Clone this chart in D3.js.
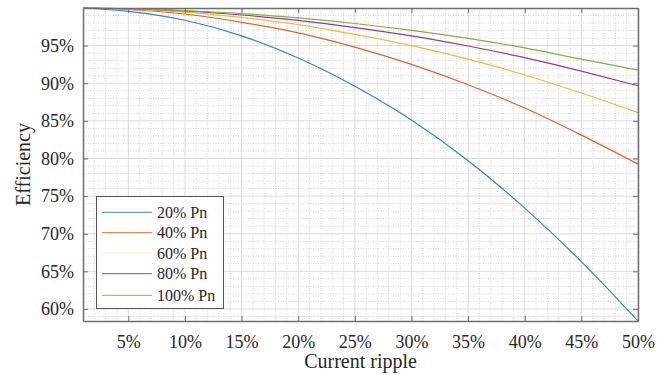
<!DOCTYPE html>
<html><head><meta charset="utf-8">
<script src="https://cdn.jsdelivr.net/npm/d3@7"></script>
<style>
body{margin:0;background:#fff;}
svg text{font-family:"Liberation Serif",serif !important;fill:#262626;}
</style></head>
<body><svg id="c" width="671" height="375"></svg>
<script>
// Data
const ripple = [1, 5, 10, 15, 20, 25, 30, 35, 40, 45, 50];
const seriesNames = ["20% Pn", "40% Pn", "60% Pn", "80% Pn", "100% Pn"];
const eff20  = [100, 99.56, 98.37, 96.30, 93.35, 89.60, 85.10, 79.70, 73.40, 66.30, 58.40];
const eff40  = [100, 99.80, 99.20, 98.10, 96.70, 94.80, 92.50, 89.80, 86.70, 83.10, 79.25];
const eff60  = [100, 99.86, 99.45, 98.75, 97.80, 96.50, 95.00, 93.20, 91.10, 88.70, 86.10];
const eff80  = [100, 99.90, 99.60, 99.07, 98.35, 97.40, 96.30, 94.95, 93.40, 91.60, 89.67];
const eff100 = [100, 99.92, 99.67, 99.26, 98.68, 97.94, 97.03, 95.96, 94.70, 93.20, 91.76];
const xTicks = [5, 10, 15, 20, 25, 30, 35, 40, 45, 50];
const yTicks = [60, 65, 70, 75, 80, 85, 90, 95];
const colors = ["#2b86d0", "#e0622a", "#f2bb3a", "#8c3d98", "#7fb13e"];
const allSeries = [eff20, eff40, eff60, eff80, eff100];

const FONT = "'Liberation Serif', serif";
const svg = d3.select("#c");
const L = 83, R = 638, T = 8, B = 321;
const x = d3.scaleLinear().domain([1, 50]).range([L, R]);
const y = d3.scaleLinear().domain([58.4, 100]).range([B, T]);

// grid
const g = svg.append("g");
const xMinor = d3.range(2, 50, 1).filter(v => v % 5 !== 0);
const yMinor = d3.range(59, 100, 1).filter(v => v % 5 !== 0);
g.selectAll(".xm").data(xMinor).join("line")
  .attr("x1", d => x(d)).attr("x2", d => x(d)).attr("y1", T).attr("y2", B)
  .attr("stroke", "#d4d4d4").attr("stroke-width", 1).attr("stroke-dasharray", "1,1.5");
g.selectAll(".ym").data(yMinor).join("line")
  .attr("y1", d => y(d)).attr("y2", d => y(d)).attr("x1", L).attr("x2", R)
  .attr("stroke", "#d4d4d4").attr("stroke-width", 1).attr("stroke-dasharray", "1,1.5");
g.selectAll(".xM").data(xTicks).join("line")
  .attr("x1", d => x(d)).attr("x2", d => x(d)).attr("y1", T).attr("y2", B)
  .attr("stroke", "#dcdcdc").attr("stroke-width", 1);
g.selectAll(".yM").data(yTicks).join("line")
  .attr("y1", d => y(d)).attr("y2", d => y(d)).attr("x1", L).attr("x2", R)
  .attr("stroke", "#dcdcdc").attr("stroke-width", 1);

// curves
const line = d3.line().x((d, i) => x(ripple[i])).y(d => y(d)).curve(d3.curveMonotoneX);
svg.append("clipPath").attr("id", "clp").append("rect")
  .attr("x", L).attr("y", T - 1).attr("width", R - L + 1).attr("height", B - T + 2);
svg.append("g").attr("clip-path", "url(#clp)").selectAll("path").data(allSeries).join("path")
  .attr("d", d => line(d)).attr("fill", "none")
  .attr("stroke", (d, i) => colors[i]).attr("stroke-width", 1.2);

// axes
const fmt = d => d + "%";
const axB = svg.append("g").attr("transform", `translate(0,${B})`)
  .call(d3.axisBottom(x).tickValues(xTicks).tickFormat(fmt).tickSizeInner(-5).tickSizeOuter(0).tickPadding(14));
const axT = svg.append("g").attr("transform", `translate(0,${T})`)
  .call(d3.axisTop(x).tickValues(xTicks).tickFormat("").tickSizeInner(-5).tickSizeOuter(0));
const axL = svg.append("g").attr("transform", `translate(${L},0)`)
  .call(d3.axisLeft(y).tickValues(yTicks).tickFormat(fmt).tickSizeInner(-5).tickSizeOuter(0).tickPadding(9));
const axR = svg.append("g").attr("transform", `translate(${R},0)`)
  .call(d3.axisRight(y).tickValues(yTicks).tickFormat("").tickSizeInner(-5).tickSizeOuter(0));
[axB, axT, axL, axR].forEach(a => {
  a.attr("font-family", FONT).attr("font-size", 18);
  a.select(".domain").attr("stroke", "#6e6e6e").attr("stroke-width", 1.5);
  a.selectAll(".tick line").attr("stroke", "#6e6e6e");
  a.selectAll("text").style("font-family", FONT).style("font-size", "18px").attr("fill", "#262626");
});

// axis titles
svg.append("text").attr("x", (L + R) / 2).attr("y", 368).attr("text-anchor", "middle")
  .style("font-family", FONT).style("font-size", "20px").text("Current ripple");
svg.append("text").attr("transform", `translate(30,${(T + B) / 2}) rotate(-90)`)
  .attr("text-anchor", "middle").style("font-family", FONT).style("font-size", "20px").text("Efficiency");

// legend
const lg = svg.append("g");
lg.append("rect").attr("x", 96.5).attr("y", 196.5).attr("width", 127).attr("height", 112)
  .attr("fill", "#fff").attr("stroke", "#555").attr("stroke-width", 1);
const rows = [212.3, 232.7, 253, 273.7, 295.3];
seriesNames.forEach((n, i) => {
  lg.append("line").attr("x1", 102).attr("x2", 152).attr("y1", rows[i]).attr("y2", rows[i])
    .attr("stroke", colors[i]).attr("stroke-width", 1.2).attr("opacity", i === 2 ? 0.35 : 0.75);
  lg.append("text").attr("x", 157).attr("y", rows[i] + 5.5)
    .style("font-family", FONT).style("font-size", "16px").text(n);
});
</script></body></html>
